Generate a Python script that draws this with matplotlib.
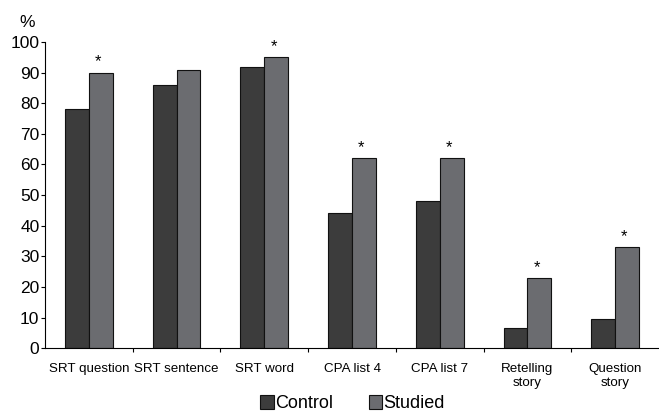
import matplotlib
matplotlib.use("Agg")
import matplotlib.pyplot as plt
import numpy as np

# ---------------------------------------------------------------------------
# Data
# ---------------------------------------------------------------------------
categories = ["SRT question", "SRT sentence", "SRT word", "CPA list 4",
              "CPA list 7", "Retelling\nstory", "Question\nstory"]
control = [78, 86, 92, 44, 48, 6.5, 9.5]
studied = [90, 91, 95, 62, 62, 23, 33]
significant = [True, False, True, True, True, True, True]
y_ticks = list(range(0, 101, 10))

CONTROL_COLOR = "#3c3c3c"
STUDIED_COLOR = "#6b6c70"

plt.rcParams["font.family"] = ["Liberation Sans", "DejaVu Sans"]

fig = plt.figure(figsize=(6.59, 4.12), dpi=100)
ax = fig.add_axes([0.0683, 0.155, 0.9317, 0.743])

x = np.arange(len(categories))
width = 0.272
ax.bar(x - width / 2, control, width, color=CONTROL_COLOR, edgecolor="#111111",
       linewidth=0.8, label="Control")
ax.bar(x + width / 2, studied, width, color=STUDIED_COLOR, edgecolor="#111111",
       linewidth=0.8, label="Studied")

# significance stars
for xi, val, sig in zip(x, studied, significant):
    if sig:
        ax.text(xi + width / 2 - 0.03, val + 1.0, "*", ha="center", va="bottom",
                fontsize=12, clip_on=False)

ax.set_xlim(-0.5, len(categories) - 0.5)
ax.set_ylim(0, 100)
ax.set_yticks(y_ticks)
ax.tick_params(axis="y", direction="out", length=3, width=0.8, labelsize=12.5,
               pad=1)

# boundary ticks (no labels) + category labels at centres
ax.set_xticks(x[:-1] + 0.5)
ax.set_xticklabels([])
ax.tick_params(axis="x", which="major", direction="out", length=3, width=0.8)
ax.set_xticks(x, minor=True)
ax.set_xticklabels(categories, minor=True, fontsize=9.6)
ax.tick_params(axis="x", which="minor", length=0, pad=11)

for side in ("top", "right"):
    ax.spines[side].set_visible(False)
ax.spines["left"].set_linewidth(0.8)
ax.spines["bottom"].set_linewidth(0.8)

fig.text(0.030, 0.935, "%", fontsize=12.5)

fig.legend(loc="lower center", bbox_to_anchor=(0.535, -0.04), ncol=2,
           frameon=False, fontsize=13, handlelength=0.75, handleheight=0.75,
           handletextpad=0.05, columnspacing=2.0)

fig.savefig("out.png", dpi=100)
